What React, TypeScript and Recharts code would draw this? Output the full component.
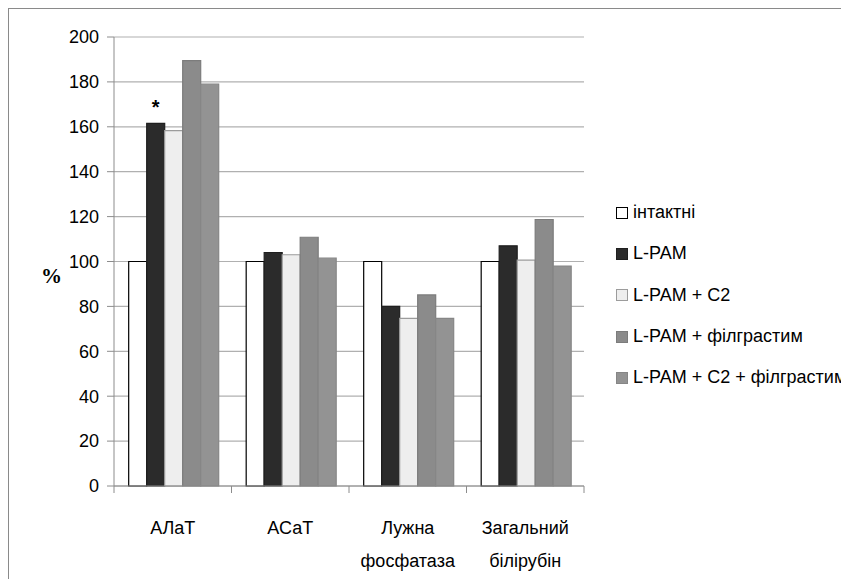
import React from "react";
import { BarChart, Bar, XAxis, YAxis, CartesianGrid, LabelList, Label } from "recharts";

const categories = ["АЛаТ", "АСаТ", "Лужна фосфатаза", "Загальний білірубін"];
const intact = [100, 100, 100, 100];
const lpam = [161.5, 104, 80, 107];
const lpamC2 = [158.3, 103, 74.7, 100.6];
const lpamFil = [189.5, 110.8, 85.1, 118.7];
const lpamC2Fil = [179, 101.5, 74.7, 98];
const marks = ["*", "", "", ""];
const yTicks = [0, 20, 40, 60, 80, 100, 120, 140, 160, 180, 200];

const seriesNames = ["інтактні", "L-PAM", "L-PAM + C2", "L-PAM + філграстим", "L-PAM + C2 + філграстим"];
const seriesKeys = ["intact", "lpam", "lpamC2", "lpamFil", "lpamC2Fil"];
const fills = ["#ffffff", "#2b2b2b", "#eeeeee", "#8b8b8b", "#939393"];
const strokes = ["#000000", "#1f1f1f", "#9c9c9c", "#7c7c7c", "#868686"];

const data = categories.map((c, i) => ({
  name: c,
  intact: intact[i],
  lpam: lpam[i],
  lpamC2: lpamC2[i],
  lpamFil: lpamFil[i],
  lpamC2Fil: lpamC2Fil[i],
  mark: marks[i],
}));

const FONT = "'Liberation Sans', Arial, sans-serif";
const FS = 18;

const XTick = (props: any) => {
  const { x, y, payload, index, visibleTicksCount } = props;
  const half = payload && payload.offset ? payload.offset : 58.75;
  const words = String(payload.value).split(" ");
  const isLast = index === (visibleTicksCount ?? categories.length) - 1;
  return (
    <g>
      <line x1={x - half} y1={y} x2={x - half} y2={y + 7} stroke="#8c8c8c" />
      {isLast && <line x1={x + half} y1={y} x2={x + half} y2={y + 7} stroke="#8c8c8c" />}
      {words.map((w, i) => (
        <text
          key={i}
          x={x}
          y={y + 42 + i * 33}
          textAnchor="middle"
          dominantBaseline="central"
          fontFamily={FONT}
          fontSize={FS}
          fill="#000"
        >
          {w}
        </text>
      ))}
    </g>
  );
};

const LegendBox = () => (
  <div
    style={{
      position: "absolute",
      left: 608,
      top: 184,
      fontFamily: FONT,
      fontSize: FS,
      color: "#000",
    }}
  >
    {seriesNames.map((n, i) => (
      <div key={n} style={{ height: 41.3, display: "flex", alignItems: "center" }}>
        <span
          style={{
            display: "inline-block",
            width: 10,
            height: 10,
            background: fills[i],
            border: `1px solid ${strokes[i]}`,
            marginRight: 5,
          }}
        />
        <span style={{ whiteSpace: "nowrap" }}>{n}</span>
      </div>
    ))}
  </div>
);

export default function App() {
  return (
    <div style={{ position: "relative", width: 841, height: 571 }}>
      <div
        style={{
          position: "absolute",
          left: 0,
          top: 0,
          width: 841,
          height: 571,
          borderTop: "1px solid #8a8a8a",
          borderLeft: "1px solid #8a8a8a",
          boxSizing: "border-box",
        }}
      />
      <div style={{ position: "absolute", left: 0, top: 0 }}>
        <BarChart
          width={841}
          height={571}
          data={data}
          margin={{ top: 29, right: 265, left: 46, bottom: 33 }}
          barCategoryGap="12.5%"
          barGap={0}
        >
          <CartesianGrid vertical={false} stroke="#b0b0b0" strokeWidth={1.2} />
          <XAxis
            dataKey="name"
            height={60}
            tickLine={false}
            tickSize={0}
            tickMargin={0}
            axisLine={{ stroke: "#8c8c8c" }}
            tick={<XTick />}
            interval={0}
          />
          <YAxis
            width={60}
            domain={[0, 200]}
            ticks={yTicks}
            interval={0}
            tickSize={7}
            tickMargin={8}
            tickLine={{ stroke: "#8c8c8c" }}
            axisLine={{ stroke: "#8c8c8c" }}
            tick={{ fontFamily: FONT, fontSize: FS, fill: "#000" }}
          >
            <Label
              value="%"
              position="left"
              offset={-8}
              dy={14}
              style={{ fontFamily: "'Liberation Serif', 'DejaVu Serif', serif", fontWeight: "bold", fontSize: 21, fill: "#000" }}
            />
          </YAxis>
          {seriesKeys.map((k, i) => (
            <Bar
              key={k}
              dataKey={k}
              name={seriesNames[i]}
              fill={fills[i]}
              stroke={strokes[i]}
              strokeWidth={1.2}
              isAnimationActive={false}
            >
              {k === "lpam" && (
                <LabelList
                  dataKey="mark"
                  position="top"
                  offset={9}
                  style={{ fontFamily: FONT, fontSize: 20, fontWeight: "bold", fill: "#000" }}
                />
              )}
            </Bar>
          ))}
        </BarChart>
      </div>
      <LegendBox />
    </div>
  );
}
